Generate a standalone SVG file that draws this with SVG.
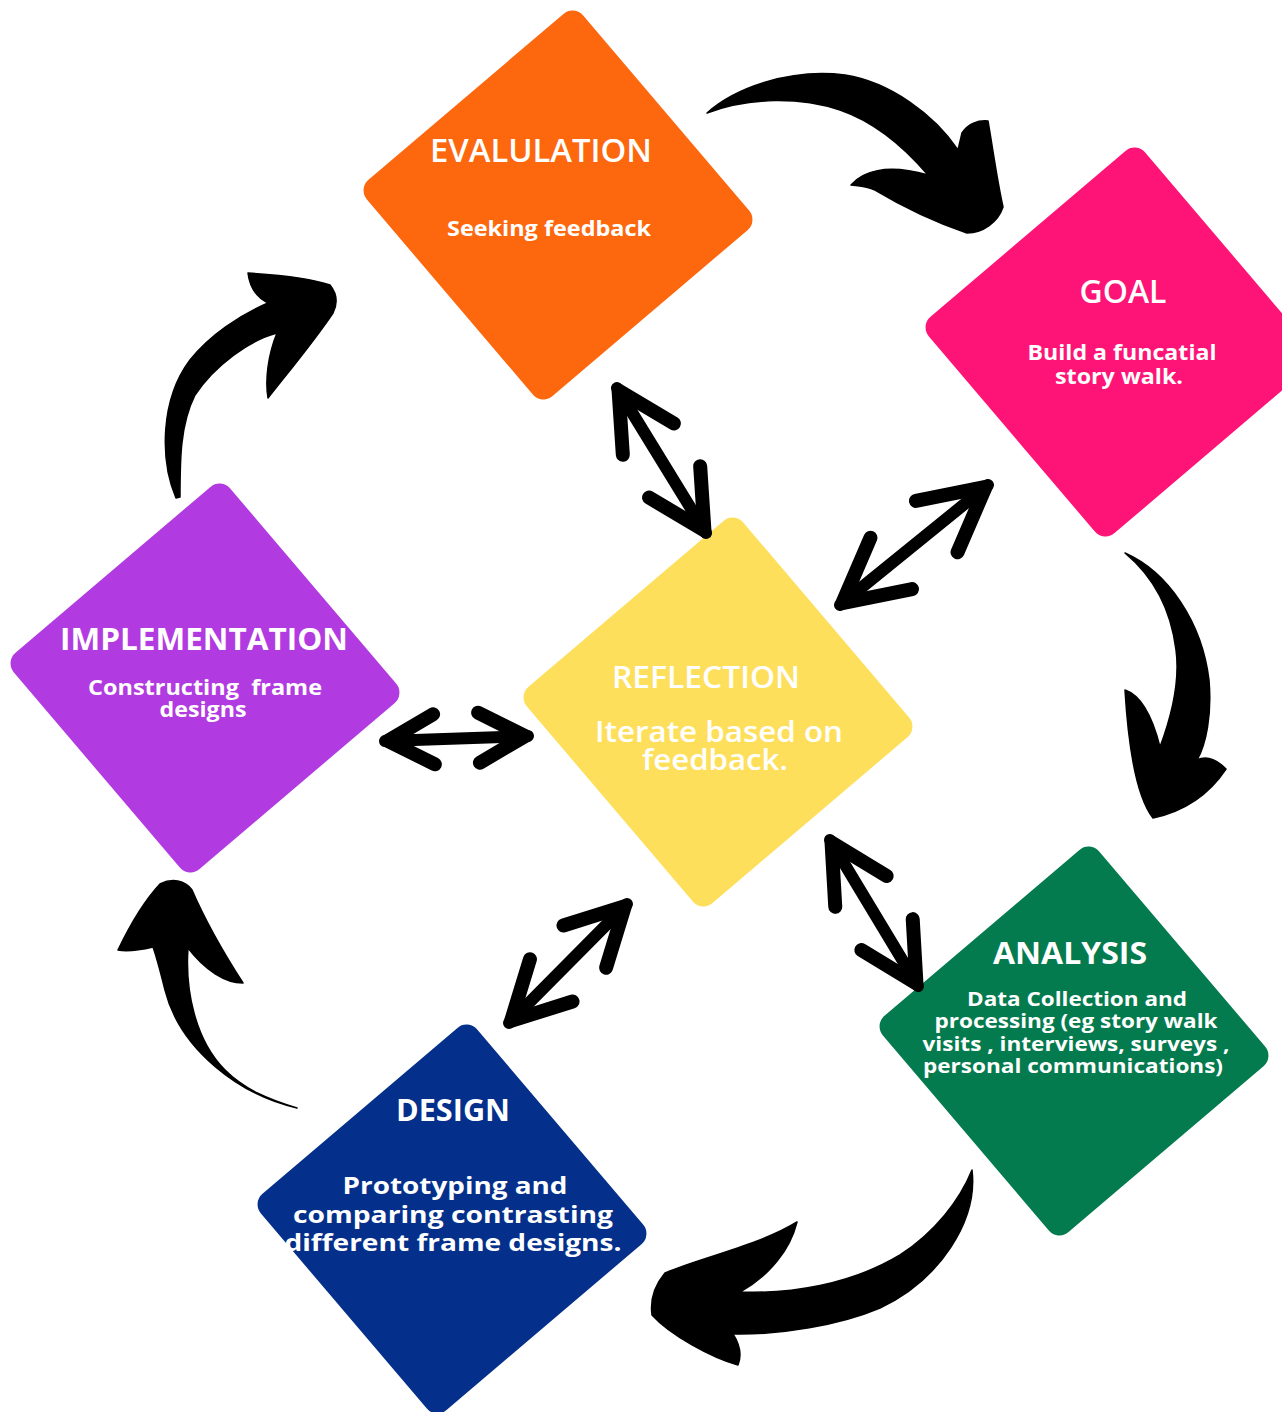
<svg xmlns="http://www.w3.org/2000/svg" width="1282" height="1412" viewBox="0 0 1282 1412">
<style>
.t{font-family:"Open Sans","Noto Sans","Liberation Sans",sans-serif;fill:#fff;text-anchor:middle}
.h{font-size:32px;font-weight:600}
.hb{font-size:31px;font-weight:700}
.s{font-weight:700}
.arc{fill:#000;stroke:#000;stroke-width:1.5;stroke-linejoin:round}
.dbl{stroke:#000;stroke-width:12;stroke-linecap:round;fill:none}
.chev{fill:none;stroke:#000;stroke-width:14;stroke-linecap:round;stroke-linejoin:round}
</style>
<defs>
<marker id="chev" markerUnits="userSpaceOnUse" markerWidth="120" markerHeight="120" viewBox="-90 -60 120 120" refX="0" refY="0" orient="auto-start-reverse" overflow="visible">
<path class="chev" d="M-60,-30 L-3,0 L-60,30"/>
</marker>
<marker id="chevL" markerUnits="userSpaceOnUse" markerWidth="120" markerHeight="120" viewBox="-90 -60 120 120" refX="0" refY="0" orient="auto-start-reverse" overflow="visible">
<path class="chev" d="M-66,-33 L-3,0 L-66,33"/>
</marker>
<marker id="chevS" markerUnits="userSpaceOnUse" markerWidth="120" markerHeight="120" viewBox="-90 -60 120 120" refX="0" refY="0" orient="auto-start-reverse" overflow="visible">
<path class="chev" d="M-49,-25 L-3,0 L-49,25"/>
</marker>
</defs>
<rect width="1282" height="1412" fill="#fff"/>

<g id="evaluation">
<rect x="-142" y="-142" width="284" height="284" rx="14" fill="#FD670E" transform="translate(558,205) rotate(49.6)"/>
<text class="t h" x="541" y="162" textLength="222" lengthAdjust="spacingAndGlyphs">EVALULATION</text>
<text class="t s" x="549" y="236" font-size="22" textLength="204" lengthAdjust="spacingAndGlyphs">Seeking feedback</text>
</g>

<g id="goal">
<rect x="-142" y="-142" width="284" height="284" rx="14" fill="#FE1476" transform="translate(1120,342) rotate(49.6)"/>
<text class="t h" x="1123" y="303" textLength="87" lengthAdjust="spacingAndGlyphs">GOAL</text>
<text class="t s" x="1122" y="360" font-size="21" textLength="189" lengthAdjust="spacingAndGlyphs">Build a funcatial</text>
<text class="t s" x="1119" y="384" font-size="21" textLength="128" lengthAdjust="spacingAndGlyphs">story walk.</text>
</g>

<g id="implementation">
<rect x="-142" y="-142" width="284" height="284" rx="14" fill="#B13BE0" transform="translate(205,678) rotate(49.6)"/>
<text class="t hb" x="204" y="650" font-size="32" textLength="288" lengthAdjust="spacingAndGlyphs">IMPLEMENTATION</text>
<text class="t s" x="205" y="695" font-size="21" textLength="234" lengthAdjust="spacingAndGlyphs" style="white-space:pre">Constructing  frame</text>
<text class="t s" x="203" y="717" font-size="21" textLength="87" lengthAdjust="spacingAndGlyphs">designs</text>
</g>

<g id="reflection">
<rect x="-142" y="-142" width="284" height="284" rx="14" fill="#FEDF5C" transform="translate(718,712) rotate(49.6)"/>
<text class="t" x="706" y="688" font-size="30" font-weight="600" textLength="188" lengthAdjust="spacingAndGlyphs">REFLECTION</text>
<text class="t" x="719" y="742" font-size="29" font-weight="600" textLength="248" lengthAdjust="spacingAndGlyphs">Iterate based on</text>
<text class="t" x="715" y="770" font-size="29" font-weight="600" textLength="146" lengthAdjust="spacingAndGlyphs">feedback.</text>
</g>

<g id="analysis">
<rect x="-142" y="-142" width="284" height="284" rx="14" fill="#047B4E" transform="translate(1074,1041) rotate(49.6)"/>
<text class="t hb" x="1070" y="964" textLength="154" lengthAdjust="spacingAndGlyphs">ANALYSIS</text>
<text class="t s" x="1077" y="1006" font-size="19" textLength="220" lengthAdjust="spacingAndGlyphs">Data Collection and</text>
<text class="t s" x="1076" y="1028" font-size="19" textLength="283" lengthAdjust="spacingAndGlyphs">processing (eg story walk</text>
<text class="t s" x="1076" y="1051" font-size="19" textLength="307" lengthAdjust="spacingAndGlyphs">visits , interviews, surveys ,</text>
<text class="t s" x="1073" y="1073" font-size="19" textLength="300" lengthAdjust="spacingAndGlyphs">personal communications)</text>
</g>

<g id="design">
<rect x="-142" y="-142" width="284" height="284" rx="14" fill="#042F8B" transform="translate(452,1219) rotate(49.6)"/>
<text class="t hb" x="453" y="1121" textLength="114" lengthAdjust="spacingAndGlyphs">DESIGN</text>
<text class="t s" x="455" y="1194" font-size="24" textLength="225" lengthAdjust="spacingAndGlyphs">Prototyping and</text>
<text class="t s" x="453" y="1223" font-size="24" textLength="320" lengthAdjust="spacingAndGlyphs">comparing contrasting</text>
<text class="t s" x="453" y="1251" font-size="24" textLength="337" lengthAdjust="spacingAndGlyphs">different frame designs.</text>
</g>

<g id="connectors">
<path class="arc" d="M707,113 C735,88 790,68 845,75 C890,82 935,115 958,150 L962,133 C968,124 978,120 988,121 C993,150 997,180 1003,207 C998,222 983,233 967,233 C935,222 900,205 875,190 C866,186 858,186 851,185 C862,172 885,163 928,175 C905,148 875,122 840,110 C800,97 750,97 707,113 Z"/>
<path class="arc" d="M1125,553 C1168,572 1202,622 1209,680 C1212,715 1206,745 1197,760 C1205,756 1215,758 1226,769 C1212,790 1190,810 1153,818 C1135,795 1128,740 1125,690 C1140,695 1152,715 1160,747 C1172,715 1180,680 1176,650 C1171,610 1155,578 1125,553 Z"/>
<path class="arc" d="M972,1170 C978,1220 940,1280 880,1308 C840,1325 780,1335 733,1334 C740,1345 742,1355 738,1365 C712,1358 670,1335 652,1315 C650,1300 655,1285 665,1273 C700,1258 760,1245 797,1222 C790,1250 770,1275 740,1292 C790,1294 850,1285 900,1255 C935,1232 960,1200 972,1170 Z"/>
<path class="arc" d="M297,1108 C240,1095 180,1050 165,990 C160,970 157,958 153,947 C140,950 128,952 118,950 C130,925 145,900 160,884 C172,878 185,880 192,890 C205,920 225,955 243,983 C225,983 205,970 188,948 C185,990 195,1040 225,1070 C245,1090 270,1100 297,1108 Z"/>
<path class="arc" d="M176,498 C160,460 160,400 190,360 C210,335 240,315 268,303 C258,298 250,290 248,273 C280,275 310,278 330,285 C338,295 337,305 333,313 C315,340 290,370 268,398 C265,380 268,355 277,333 C250,340 215,365 195,395 C180,425 180,460 180,497 Z"/>
<line class="dbl" x1="617" y1="388" x2="706" y2="533" marker-start="url(#chev)" marker-end="url(#chev)"/>
<line class="dbl" x1="988" y1="485" x2="840" y2="605" marker-start="url(#chevL)" marker-end="url(#chevL)"/>
<line class="dbl" x1="385" y1="741" x2="528" y2="736" marker-start="url(#chevS)" marker-end="url(#chevS)"/>
<line class="dbl" x1="627" y1="904" x2="509" y2="1023" marker-start="url(#chev)" marker-end="url(#chev)"/>
<line class="dbl" x1="830" y1="840" x2="918" y2="986" marker-start="url(#chev)" marker-end="url(#chev)"/>
</g>
</svg>
